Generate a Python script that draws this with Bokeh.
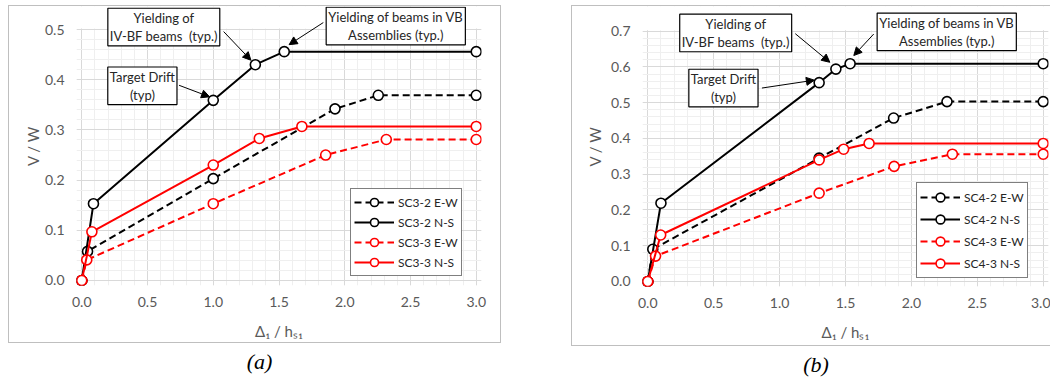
from bokeh.plotting import figure
from bokeh.models import (Range1d, SingleIntervalTicker, PrintfTickFormatter, Label, Arrow,
                          NormalHead, Div, Spacer, BoxAnnotation)
from bokeh.layouts import row, column
from bokeh.embed import file_html
from bokeh.resources import INLINE

# ---------------- data: panel (a) ----------------
a_ew2_x = [0.0, 0.044, 1.0, 1.926, 2.255, 3.0]
a_ew2_y = [0.0, 0.058, 0.203, 0.342, 0.369, 0.369]
a_ns2_x = [0.0, 0.089, 1.0, 1.32, 1.54, 3.0]
a_ns2_y = [0.0, 0.153, 0.359, 0.430, 0.456, 0.456]
a_ew3_x = [0.0, 0.038, 1.0, 1.855, 2.316, 3.0]
a_ew3_y = [0.0, 0.041, 0.153, 0.250, 0.281, 0.281]
a_ns3_x = [0.0, 0.077, 1.0, 1.35, 1.674, 3.0]
a_ns3_y = [0.0, 0.097, 0.230, 0.283, 0.307, 0.307]
a_names = ["SC3-2 E-W", "SC3-2 N-S", "SC3-3 E-W", "SC3-3 N-S"]

# ---------------- data: panel (b) ----------------
b_ew2_x = [0.0, 0.038, 1.30, 1.865, 2.27, 3.0]
b_ew2_y = [0.0, 0.090, 0.345, 0.457, 0.503, 0.503]
b_ns2_x = [0.0, 0.10, 1.30, 1.427, 1.535, 3.0]
b_ns2_y = [0.0, 0.219, 0.556, 0.594, 0.609, 0.609]
b_ew3_x = [0.0, 0.059, 1.30, 1.869, 2.311, 3.0]
b_ew3_y = [0.0, 0.071, 0.247, 0.322, 0.356, 0.356]
b_ns3_x = [0.0, 0.098, 1.30, 1.486, 1.679, 3.0]
b_ns3_y = [0.0, 0.130, 0.340, 0.370, 0.386, 0.386]
b_names = ["SC4-2 E-W", "SC4-2 N-S", "SC4-3 E-W", "SC4-3 N-S"]

x_label = "\u0394\u2081 / h\u209b\u2081"
y_label = "V / W"
note_yield_ivbf = "Yielding of\nIV-BF beams\u00a0 (typ.)"
note_target = "Target Drift\n(typ)"
note_yield_vb = "Yielding of beams in VB\nAssemblies (typ.)"

FONT = "Lato"
GREY = "#595959"
COLORS = ["black", "black", "red", "red"]
DASHES = ["7 4", "solid", "7 4", "solid"]


def make_panel(series, names, ymax, ytop, geom, notes, legend_loc, legend_item_h, border_css,
               ylabel_standoff):
    fw, fh, mbl, mbr, mbt, mbb = geom
    xpad = 0.04
    ypad = ymax * 0.02
    p = figure(frame_width=fw, frame_height=fh, min_border_left=mbl, min_border_right=mbr,
               min_border_top=mbt, min_border_bottom=mbb,
               x_range=Range1d(-xpad, 3.0 + xpad), y_range=Range1d(-ypad, ytop),
               output_backend="svg", toolbar_location=None,
               background_fill_color="white", border_fill_color="white")
    p.styles = border_css
    p.outline_line_color = None

    p.xaxis.ticker = SingleIntervalTicker(interval=0.5, num_minor_ticks=5)
    p.yaxis.ticker = SingleIntervalTicker(interval=0.1, num_minor_ticks=5)
    p.xaxis.formatter = PrintfTickFormatter(format="%.1f")
    p.yaxis.formatter = PrintfTickFormatter(format="%.1f")
    for ax in (p.xaxis[0], p.yaxis[0]):
        ax.axis_line_color = None
        ax.major_tick_line_color = None
        ax.minor_tick_line_color = None
        ax.major_label_text_font = FONT
        ax.major_label_text_font_size = "14px"
        ax.major_label_text_color = GREY
        ax.axis_label_text_font = FONT
        ax.axis_label_text_font_size = "15px"
        ax.axis_label_text_color = GREY
        ax.axis_label_text_font_style = "normal"
    p.xaxis.axis_label = x_label
    p.yaxis.axis_label = y_label
    p.xaxis.major_label_standoff = 5
    p.yaxis.major_label_standoff = 6
    p.xaxis.axis_label_standoff = 12
    p.yaxis.axis_label_standoff = ylabel_standoff
    top_bound = ymax * 1.002
    p.yaxis.bounds = (0, top_bound)

    for g in (p.xgrid[0], p.ygrid[0]):
        g.grid_line_color = "#d9d9d9"
        g.grid_line_width = 1
        g.minor_grid_line_color = "#efefef"
        g.minor_grid_line_width = 1
    p.xgrid.bounds = (0, 3.0)
    p.ygrid.bounds = (0, top_bound)
    # blank strip above the plot area (room for the call-out boxes)
    p.add_layout(BoxAnnotation(bottom=ymax * 1.004, fill_color="white", fill_alpha=1.0,
                               line_color=None, level="underlay"))

    for (xs, ys), name, c, d in zip(series, names, COLORS, DASHES):
        p.line(xs, ys, line_color=c, line_width=2, line_dash=d, legend_label=name)
        p.scatter(xs, ys, marker="circle", size=10, fill_color="white", line_color=c,
                  line_width=1.6, legend_label=name)

    lg = p.legend[0]
    lg.location = legend_loc
    lg.margin = 0
    lg.padding = 3
    lg.spacing = 0
    lg.glyph_width = 40
    lg.glyph_height = legend_item_h
    lg.label_height = legend_item_h
    lg.label_standoff = 4
    lg.label_text_font = FONT
    lg.label_text_font_size = "12px"
    lg.label_text_color = "#262626"
    lg.border_line_color = "black"
    lg.border_line_width = 1.2
    lg.background_fill_color = "white"
    lg.background_fill_alpha = 1.0

    for (text, lx, ly, ax0, ay0, ax1, ay1) in notes:
        p.add_layout(Arrow(x_start=ax0, y_start=ay0, x_end=ax1, y_end=ay1,
                           line_color="black", line_width=1,
                           end=NormalHead(size=8, fill_color="black", line_color="black")))
        p.add_layout(Label(x=lx, y=ly, text=text, text_align="center", text_baseline="middle",
                           text_font=FONT, text_font_size="13px", text_color="#262626",
                           text_line_height=1.1,
                           border_line_color="black", border_line_width=1.2,
                           background_fill_color="white", background_fill_alpha=1.0,
                           padding=2))
    return p


series_a = [(a_ew2_x, a_ew2_y), (a_ns2_x, a_ns2_y), (a_ew3_x, a_ew3_y), (a_ns3_x, a_ns3_y)]
series_b = [(b_ew2_x, b_ew2_y), (b_ns2_x, b_ns2_y), (b_ew3_x, b_ew3_y), (b_ns3_x, b_ns3_y)]

notes_a = [
    (note_yield_ivbf, 0.624, 0.505, 1.079, 0.496, 1.286, 0.439),
    (note_target, 0.461, 0.388, 0.740, 0.389, 0.972, 0.366),
    (note_yield_vb, 2.388, 0.507, 1.837, 0.514, 1.577, 0.470),
]
notes_b = [
    (note_yield_ivbf, 0.667, 0.695, 1.119, 0.693, 1.381, 0.613),
    (note_target, 0.574, 0.541, 0.866, 0.541, 1.264, 0.563),
    (note_yield_vb, 2.268, 0.698, 1.714, 0.692, 1.563, 0.632),
]

border = "1px solid #bfbfbf"
pa = make_panel(series_a, a_names, 0.5, 0.546, (403, 277, 67, 21, 0, 59), notes_a, (274, 9), 20,
                {"border": border}, 0)
pb = make_panel(series_b, b_names, 0.7, 0.769, (405, 278, 70, 3, 0, 61), notes_b, (274, 8), 22,
                {"border-left": border, "border-top": border, "border-bottom": border}, 4)

cap_style = {"font-family": "Liberation Serif", "font-style": "italic", "font-size": "22px",
             "text-align": "center", "line-height": "28px"}
cap_a = Div(text="(a)", width=493, height=28, styles=cap_style)
cap_b = Div(text="(b)", width=476, height=28, styles=dict(cap_style, **{"padding-left": "4px"}))

layout = column(
    Spacer(height=5),
    row(Spacer(width=8), column(pa, cap_a, spacing=0), Spacer(width=60),
        column(pb, cap_b, spacing=0), spacing=0),
    spacing=0)

open("out.html", "w").write(file_html(layout, INLINE))
